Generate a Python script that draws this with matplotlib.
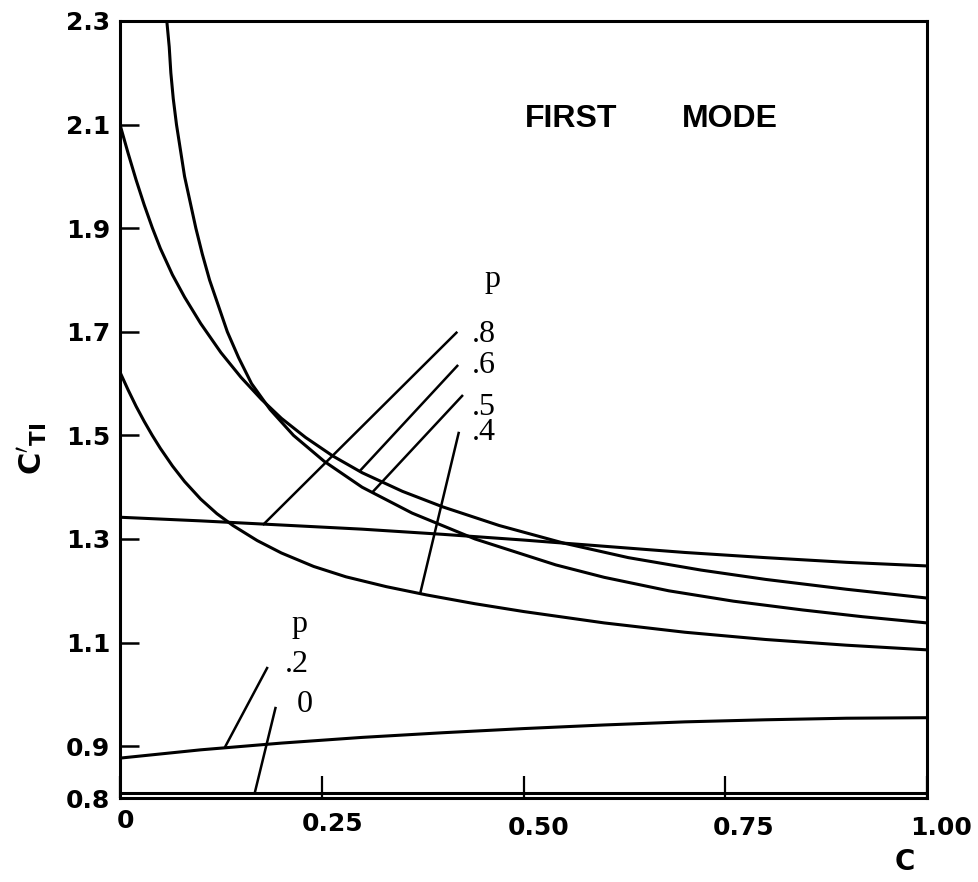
import matplotlib
matplotlib.use("Agg")
import matplotlib.pyplot as plt
from matplotlib.transforms import ScaledTranslation

# ---------------- data ----------------
# p = .8 (nearly flat curve)
c_p08 = [0.0, 0.1, 0.2, 0.3, 0.4, 0.5, 0.6, 0.7, 0.8, 0.9, 1.0]
y_p08 = [1.342, 1.335, 1.327, 1.319, 1.309, 1.298, 1.286, 1.274, 1.264, 1.255, 1.248]

# p = .6 (starts at 2.1)
c_p06 = [0.0, 0.01, 0.02, 0.03, 0.04, 0.05, 0.065, 0.08, 0.10, 0.125, 0.15, 0.175,
         0.20, 0.23, 0.264, 0.30, 0.35, 0.40, 0.47, 0.55, 0.63, 0.72, 0.80, 0.90, 1.0]
y_p06 = [2.100, 2.045, 1.993, 1.945, 1.901, 1.861, 1.810, 1.767, 1.716, 1.660, 1.612, 1.570,
         1.533, 1.496, 1.460, 1.428, 1.392, 1.362, 1.326, 1.292, 1.264, 1.240, 1.222, 1.203, 1.186]

# p = .5 (goes off the top near c = 0.06)
c_p05 = [0.058, 0.061, 0.063, 0.066, 0.070, 0.075, 0.080, 0.087, 0.094, 0.102, 0.111,
         0.122, 0.133, 0.147, 0.163, 0.186, 0.215, 0.253, 0.300, 0.362, 0.44, 0.54,
         0.60, 0.68, 0.76, 0.846, 0.92, 1.0]
y_p05 = [2.30, 2.25, 2.20, 2.15, 2.10, 2.05, 2.00, 1.95, 1.90, 1.85, 1.80,
         1.75, 1.70, 1.65, 1.60, 1.55, 1.50, 1.45, 1.40, 1.35, 1.30, 1.25,
         1.226, 1.20, 1.18, 1.163, 1.150, 1.138]

# p = .4 (starts at 1.62)
c_p04 = [0.0, 0.01, 0.02, 0.03, 0.04, 0.05, 0.065, 0.08, 0.10, 0.12, 0.14, 0.17,
         0.20, 0.24, 0.28, 0.33, 0.38, 0.44, 0.50, 0.60, 0.70, 0.80, 0.90, 1.0]
y_p04 = [1.622, 1.588, 1.556, 1.527, 1.500, 1.475, 1.441, 1.411, 1.377, 1.349, 1.326, 1.297,
         1.273, 1.247, 1.227, 1.208, 1.192, 1.175, 1.160, 1.138, 1.120, 1.106, 1.095, 1.086]

# p = .2
c_p02 = [0.0, 0.1, 0.2, 0.3, 0.4, 0.5, 0.6, 0.7, 0.8, 0.9, 1.0]
y_p02 = [0.877, 0.893, 0.906, 0.917, 0.926, 0.934, 0.941, 0.947, 0.951, 0.954, 0.955]

# p = 0
c_p00 = [0.0, 0.5, 1.0]
y_p00 = [0.810, 0.810, 0.810]

# leader lines: (c_start, c_end), (y_start, y_end)
lead_p08 = ([0.418, 0.177], [1.700, 1.327])
lead_p06 = ([0.419, 0.297], [1.636, 1.431])
lead_p05 = ([0.425, 0.312], [1.578, 1.389])
lead_p04 = ([0.420, 0.372], [1.507, 1.195])
lead_p02 = ([0.183, 0.130], [1.053, 0.898])
lead_p00 = ([0.193, 0.167], [0.976, 0.810])

x_ticks = [0.0, 0.25, 0.50, 0.75, 1.00]
x_ticklabels = ["0", "0.25", "0.50", "0.75", "1.00"]
y_ticks = [0.8, 0.9, 1.1, 1.3, 1.5, 1.7, 1.9, 2.1, 2.3]
y_ticklabels = ["0.8", "0.9", "1.1", "1.3", "1.5", "1.7", "1.9", "2.1", "2.3"]

# ---------------- figure ----------------
W, H = 979, 882
fig = plt.figure(figsize=(W / 100, H / 100), dpi=100)
ax = fig.add_axes([120 / W, 1 - 798 / H, 807 / W, 777 / H])
ax.set_xlim(0, 1.0)
ax.set_ylim(0.8, 2.3)

lw = 2.2
for cx, cy in [(c_p08, y_p08), (c_p06, y_p06), (c_p05, y_p05),
               (c_p04, y_p04), (c_p02, y_p02), (c_p00, y_p00)]:
    ax.plot(cx, cy, color="black", lw=lw, solid_joinstyle="round",
            solid_capstyle="round", clip_on=True)

for lx, ly in [lead_p08, lead_p06, lead_p05, lead_p04, lead_p02, lead_p00]:
    ax.plot(lx, ly, color="black", lw=1.8, solid_capstyle="butt")

for s in ax.spines.values():
    s.set_linewidth(2.2)

ax.set_xticks(x_ticks)
ax.set_xticklabels(x_ticklabels)
ax.set_yticks(y_ticks)
ax.set_yticklabels(y_ticklabels)
ax.tick_params(axis="y", direction="in", length=14, width=1.8, pad=7,
               labelsize=18)
ax.tick_params(axis="x", direction="in", length=16, width=1.6, pad=13,
               labelsize=18)
for lab in ax.get_xticklabels() + ax.get_yticklabels():
    lab.set_fontweight("bold")
    lab.set_fontfamily("DejaVu Sans")

# individual shifts of the hand-lettered x labels (pixels)
shifts = [(6, 7), (11, 4), (15, 0), (18, 0), (14, 0)]
for lab, (dx, dy) in zip(ax.get_xticklabels(), shifts):
    lab.set_transform(lab.get_transform() + ScaledTranslation(dx / 100, dy / 100, fig.dpi_scale_trans))

# axis labels
fig.text(905 / W, 1 - 862 / H, "C", fontsize=20, fontweight="bold",
         ha="center", va="center", family="DejaVu Sans")
fig.text(33 / W, 1 - 449 / H, r"$\mathbf{C'_{TI}}$", fontsize=22, rotation=90,
         ha="center", va="center")

# title text
ax.text(0.502, 2.095, "FIRST", fontsize=23, family="Liberation Sans",
        fontweight="bold", ha="left", va="baseline")
ax.text(0.696, 2.095, "MODE", fontsize=23, family="Liberation Sans",
        fontweight="bold", ha="left", va="baseline")

# p labels
lf = dict(family="Liberation Serif", fontsize=23, ha="left", va="baseline", color="black")
ax.text(0.452, 1.786, "p", **lf)
ax.text(0.436, 1.680, ".8", **lf)
ax.text(0.436, 1.620, ".6", **lf)
ax.text(0.436, 1.540, ".5", **lf)
ax.text(0.436, 1.492, ".4", **lf)
ax.text(0.213, 1.120, "p", **lf)
ax.text(0.204, 1.043, ".2", **lf)
ax.text(0.219, 0.966, "0", **lf)

fig.savefig("out.png", dpi=100)
